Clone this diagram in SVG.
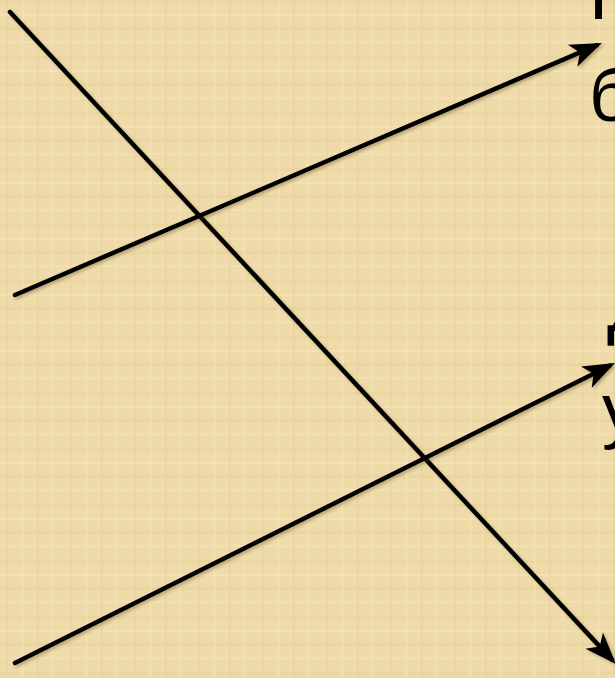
<svg xmlns="http://www.w3.org/2000/svg" width="615" height="678" viewBox="0 0 615 678">
  <style>
    .conn { fill: none; stroke: #000; stroke-width: 4.5; stroke-linecap: round; filter: url(#shadow); }
    .big { font-family: "Liberation Sans", Arial, sans-serif; font-size: 74px; fill: #000; }
  </style>
  <defs>
    <filter id="shadow" x="-10%" y="-10%" width="120%" height="120%">
      <feDropShadow dx="2" dy="2" stdDeviation="1.5" flood-color="#5a4520" flood-opacity="0.35"/>
    </filter>
    <marker id="arrow" markerUnits="userSpaceOnUse" markerWidth="50" markerHeight="40" viewBox="-30 -20 50 40" refX="0" refY="0" orient="auto" overflow="visible">
      <path d="M6,0 L-26,-12 L-18,0 L-26,12 Z" fill="#000"/>
    </marker>
    <pattern id="papyrus" patternUnits="userSpaceOnUse" width="64" height="56">
      <rect width="64" height="56" fill="#eedba9"/>
      <rect x="0" y="0" width="64" height="3" fill="#e4cb93" opacity="0.35"/>
      <rect x="0" y="14" width="64" height="2" fill="#f6e8c0" opacity="0.5"/>
      <rect x="0" y="27" width="64" height="3" fill="#e2c78e" opacity="0.3"/>
      <rect x="0" y="41" width="64" height="2" fill="#f5e6bc" opacity="0.45"/>
      <rect x="6" y="0" width="2" height="56" fill="#e5cd96" opacity="0.35"/>
      <rect x="21" y="0" width="3" height="56" fill="#f5e5bb" opacity="0.45"/>
      <rect x="37" y="0" width="2" height="56" fill="#e2c78c" opacity="0.3"/>
      <rect x="50" y="0" width="3" height="56" fill="#f4e4b9" opacity="0.4"/>
    </pattern>
  </defs>
  <rect width="615" height="678" fill="url(#papyrus)"/>

  <g id="text-right">
    <text class="big" x="589" y="19">Г</text>
    <text class="big" x="589" y="121">б</text>
    <text class="big" x="607" y="331">Д</text>
    <text class="big" x="602" y="435">у</text>
  </g>

  <g id="connectors">
    <line class="conn" x1="10" y1="12" x2="611.9" y2="659.6" marker-end="url(#arrow)"/>
    <line class="conn" x1="15" y1="295" x2="596.5" y2="45.4" marker-end="url(#arrow)"/>
    <line class="conn" x1="15" y1="663" x2="609.6" y2="365.7" marker-end="url(#arrow)"/>
  </g>
</svg>
